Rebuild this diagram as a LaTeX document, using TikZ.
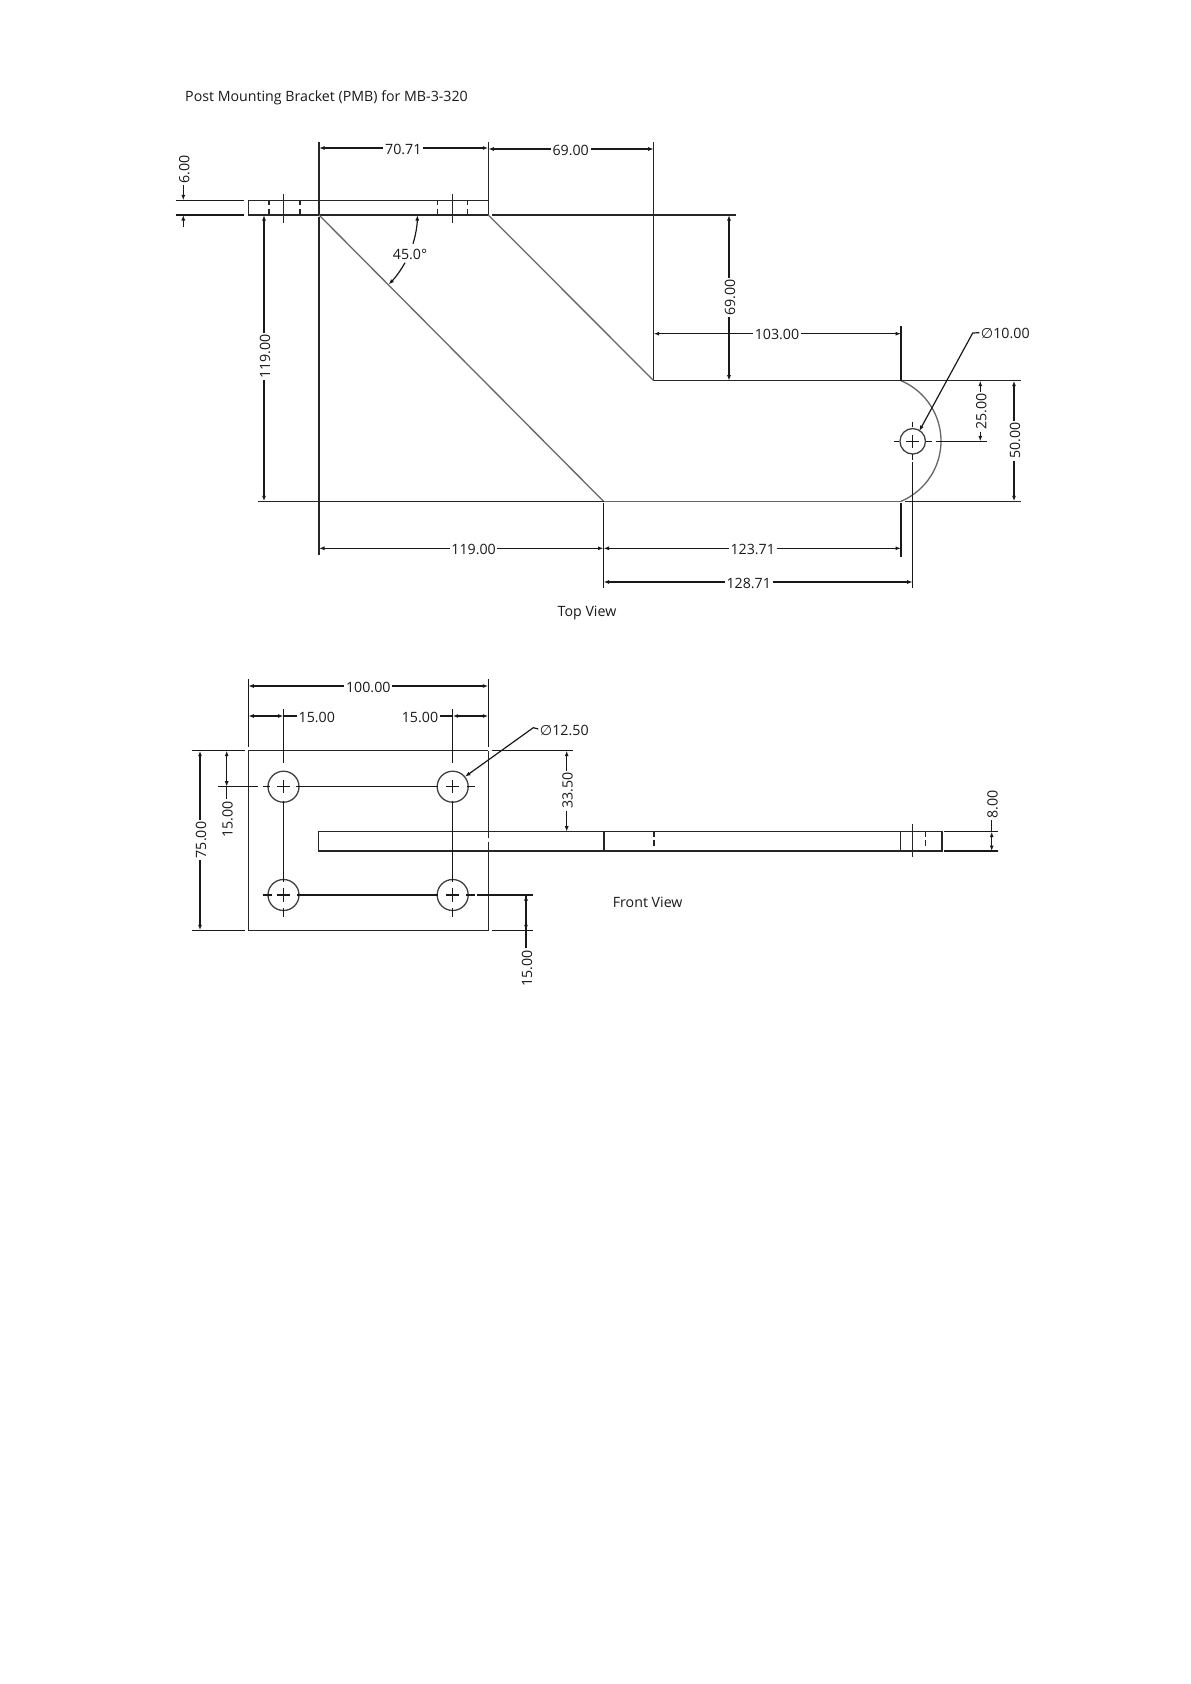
\documentclass[tikz,border=0pt]{standalone}
\usepackage{fontspec}
\setmainfont{Open Sans}
\newfontfamily\symbfont{DejaVu Sans}
\usetikzlibrary{arrows.meta}
\tikzset{
	partline/.style={line width=1.3pt, black!85},
	softline/.style={line width=1.3pt, black!60},
	dimline/.style={line width=1.2pt, black!90, -{Latex[length=5.5pt,width=4pt]}},
	bothline/.style={line width=1.2pt, black!90, {Latex[length=5.5pt,width=4pt]}-{Latex[length=5.5pt,width=4pt]}},
	extline/.style={line width=1.2pt, black!90},
	hiddenline/.style={line width=1.3pt, black!85, dash pattern=on 5pt off 3.5pt on 6pt},
	dimtext/.style={font=\fontsize{14.2}{14.2}\selectfont, text=black!90, inner sep=1.5pt, text height=12pt, text depth=0pt},
	holecircle/.style={draw, circle, line width=1.3pt, black!75, inner sep=0pt},
}

\begin{document}
\begin{tikzpicture}[x=1pt,y=-1pt]
			\useasboundingbox (0,0) rectangle (1191,1684);
			
			\node (title) [dimtext, anchor=west] at (183.5,95.5){Post Mounting Bracket (PMB) for MB-3-320};
			\node (topview) [dimtext] at (587,610.5){Top View};
			\node (frontview) [dimtext] at (647.7,901){Front View};
			
			% top view
			\coordinate (pA) at (319,215);
			\coordinate (pB) at (488.3,215);
			\coordinate (pC) at (653.7,380.7);
			\coordinate (pD) at (901,380.7);
			\coordinate (pE) at (901,501.3);
			\coordinate (pF) at (603.5,501.3);
			\coordinate (pP) at (248.3,200.3);
			\node (holeT) [holecircle, minimum size=25.5pt] at (912.7,441.3){};
			
			\draw[partline] (pP) rectangle (pB);
			\draw[partline] (319,142)--(319,214);
			\draw[partline] (319,217)--(319,555);
			\draw[partline] (488.3,142)--(pB);
			\draw[partline] (653.7,142)--(pC);
			\draw[partline] (492,215)--(735.6,215);
			\draw[softline] (pA)--(pF);
			\draw[softline] (pB)--(pC);
			\draw[partline] (pC)--(1020.7,380.7);
			\draw[partline] (258,501.3)--(pF);
			\draw[softline] (pF)--(pE);
			\draw[partline] (905,501.3)--(1020.7,501.3);
			\draw[softline] (pD) arc (67.1:-67.1:65.45pt);
			
			\draw[hiddenline] (269,200.3)--(269,215);
			\draw[hiddenline] (300,200.3)--(300,215);
			\draw[hiddenline] (437.7,200.3)--(437.7,215);
			\draw[hiddenline] (467.7,200.3)--(467.7,215);
			\draw[partline] (283.7,194)--(283.7,222.7);
			\draw[partline] (452.7,194)--(452.7,222.7);
			
			\draw[extline] (175.7,200.3)--(244.3,200.3);
			\draw[extline] (175.7,215)--(244.3,215);
			\draw[extline] (901,326)--(pD);
			\draw[extline] (901,503)--(901,556.7);
			\draw[extline] (603.5,503)--(603.5,588);
			
			\draw[extline] (912.7,421.7)--(912.7,426.7);
			\draw[extline] (912.7,435)--(912.7,447.7);
			\draw[extline] (912.7,454)--(912.7,460);
			\draw[extline] (912.7,461.7)--(912.7,588);
			\draw[extline] (894,441.3)--(899.3,441.3);
			\draw[extline] (906.4,441.3)--(919,441.3);
			\draw[extline] (926,441.3)--(931.7,441.3);
			\draw[extline] (935.7,441.3)--(986.7,441.3);
			
			\node (d7071) [dimtext] at (403.3,148){70.71};
			\draw[dimline] (d7071)--(d7071 -| pA);
			\draw[dimline] (d7071)--(d7071 -| pB);
			\node (d6900h) [dimtext] at (570.7,149){69.00};
			\draw[dimline] (d6900h)--(d6900h -| pB);
			\draw[dimline] (d6900h)--(d6900h -| pC);
			\node (d103) [dimtext] at (777,333.7){103.00};
			\draw[dimline] (d103)--(d103 -| pC);
			\draw[dimline] (d103)--(d103 -| pD);
			\node (d119h) [dimtext] at (473.6,548.3){119.00};
			\draw[dimline] (d119h)--(d119h -| pA);
			\draw[dimline] (d119h)--(d119h -| pF);
			\node (d12371) [dimtext] at (752.7,548.3){123.71};
			\draw[dimline] (d12371)--(d12371 -| pF);
			\draw[dimline] (d12371)--(d12371 -| pD);
			\node (d12871) [dimtext] at (748.7,582){128.71};
			\draw[dimline] (d12871)--(d12871 -| pF);
			\draw[dimline] (d12871)--(d12871 -| holeT);
			
			\node (d119v) [dimtext, rotate=90] at (264,356.6){119.00};
			\draw[dimline] (d119v)--(d119v |- pA);
			\draw[dimline] (d119v)--(d119v |- pF);
			\node (d6900v) [dimtext, rotate=90] at (729,297.5){69.00};
			\draw[dimline] (d6900v)--(d6900v |- pA);
			\draw[dimline] (d6900v)--(d6900v |- pC);
			\node (d600) [dimtext, rotate=90] at (183.3,169.3){6.00};
			\coordinate (d600b) at (183.3,226.7);
			\draw[dimline] (d600)--(d600 |- pP);
			\draw[dimline] (d600b)--(d600b |- pA);
			\node (d2500) [dimtext, rotate=90] at (980.3,411.7){25.00};
			\draw[dimline] (d2500)--(d2500 |- pD);
			\draw[dimline] (d2500)--(d2500 |- holeT);
			\node (d5000) [dimtext, rotate=90] at (1014,440.7){50.00};
			\draw[dimline] (d5000)--(d5000 |- pD);
			\draw[dimline] (d5000)--(d5000 |- pE);
			
			\node (d45) [dimtext] at (410,253){45.0°};
			\draw[extline, {Latex[length=5.5pt,width=4pt]}-] (417.3,215) arc (0:-17:98.3pt);
			\draw[dimline] (405,262.7) arc (-29:-45:98.3pt);
			
			\node (dphi10) [dimtext] at (1005.3,332.7){{\symbfont ∅}10.00};
			\coordinate (kinkT) at (972.7,333);
			\coordinate (tipT) at (919.3,431);
			\draw[dimline] (dphi10.west)--(kinkT)--(tipT);
			
			% front view
			\coordinate (qA) at (248.3,750.7);
			\coordinate (qB) at (488.3,930.3);
			\coordinate (qC) at (318.7,831.7);
			\coordinate (qD) at (942,851);
			\node (holeA) [holecircle, minimum size=31pt] at (283.5,786.7){};
			\node (holeB) [holecircle, minimum size=31pt] at (452.7,786.7){};
			\node (holeC) [holecircle, minimum size=31pt] at (283.5,895){};
			\node (holeD) [holecircle, minimum size=31pt] at (452.7,895){};
			
			\draw[partline] (qA)--(488.3,750.7);
			\draw[partline] (qA)--(248.3,930.3)--(qB)--(488.3,842);
			\draw[partline] (488.3,838)--(488.3,750.7);
			\draw[partline] (qC) rectangle (qD);
			
			\draw[partline] (604,831.7)--(604,851);
			\draw[partline] (900.7,831.7)--(900.7,851);
			\draw[partline] (912.3,824)--(912.3,857.3);
			\draw[hiddenline] (654,831.7)--(654,851);
			\draw[hiddenline] (925.7,831.7)--(925.7,851);
			
			\draw[extline] (248.3,679)--(248.3,747.3);
			\draw[extline] (488.3,679)--(488.3,747.3);
			\draw[extline] (191.7,750.7)--(245,750.7);
			\draw[extline] (191.7,930.3)--(245,930.3);
			\draw[extline] (491.7,750.7)--(573.3,750.7);
			\draw[extline] (491.7,930.3)--(532.7,930.3);
			\draw[extline] (944.3,831.7)--(998.3,831.7);
			\draw[extline] (944.3,851)--(998.3,851);
			
			\draw[extline] (283.5,709.3)--(283.5,762.7);
			\draw[extline] (283.5,780.3)--(283.5,793.3);
			\draw[extline] (283.5,800.7)--(283.5,881.7);
			\draw[extline] (283.5,888.3)--(283.5,901.7);
			\draw[extline] (283.5,908.3)--(283.5,917.3);
			\draw[extline] (452.7,709.3)--(452.7,762.7);
			\draw[extline] (452.7,780.3)--(452.7,793.3);
			\draw[extline] (452.7,800.7)--(452.7,881.7);
			\draw[extline] (452.7,888.3)--(452.7,901.7);
			\draw[extline] (452.7,908.3)--(452.7,917.3);
			\draw[extline] (218.3,786.7)--(258.3,786.7);
			\draw[extline] (262.7,786.7)--(270,786.7);
			\draw[extline] (277,786.7)--(290,786.7);
			\draw[extline] (296,786.7)--(438,786.7);
			\draw[extline] (446,786.7)--(459.3,786.7);
			\draw[extline] (466.7,786.7)--(475,786.7);
			\draw[extline] (262.7,895)--(271.7,895);
			\draw[extline] (277,895)--(290,895);
			\draw[extline] (296.7,895)--(438,895);
			\draw[extline] (446,895)--(459.3,895);
			\draw[extline] (466,895)--(475,895);
			\draw[extline] (476.7,895)--(532.7,895);
			
			\node (d100) [dimtext] at (368.3,686){100.00};
			\draw[dimline] (d100)--(d100 -| qA);
			\draw[dimline] (d100)--(d100 -| qB);
			
			\node (d15a) [dimtext, anchor=west] at (297,716){15.00};
			\draw[extline] (d15a)--(d15a -| holeA);
			\draw[bothline] (d15a -| qA)--(d15a -| holeA);
			\node (d15b) [dimtext] at (420,716){15.00};
			\draw[extline] (d15b)--(d15b -| holeB);
			\draw[bothline] (d15b -| holeB)--(d15b -| qB);
			
			\node (d75) [dimtext, rotate=90] at (200,840){75.00};
			\draw[dimline] (d75)--(d75 |- qA);
			\draw[dimline] (d75)--(d75 |- qB);
			\node (d15c) [dimtext, rotate=90] at (226.7,819.3){15.00};
			\draw[extline] (d15c)--(d15c |- holeA);
			\draw[bothline] (d15c |- qA)--(d15c |- holeA);
			\node (d3350) [dimtext, rotate=90] at (566.7,790.7){33.50};
			\draw[dimline] (d3350)--(d3350 |- qA);
			\draw[dimline] (d3350)--(d3350 |- qC);
			\node (d15d) [dimtext, rotate=90] at (526,968.3){15.00};
			\draw[extline] (d15d)--(d15d |- holeD);
			\draw[bothline] (d15d |- holeD)--(d15d |- qB);
			\node (d800) [dimtext, rotate=90] at (991.7,804.3){8.00};
			\draw[extline] (d800)--(d800 |- qC);
			\draw[bothline] (d800 |- qC)--(d800 |- qD);
			
			\node (dphi12) [dimtext] at (564.3,729){{\symbfont ∅}12.50};
			\coordinate (kinkF) at (533.3,727.7);
			\coordinate (tipF) at (465,776.7);
			\draw[dimline] (dphi12.west)--(kinkF)--(tipF);
			
		\end{tikzpicture}
\end{document}
